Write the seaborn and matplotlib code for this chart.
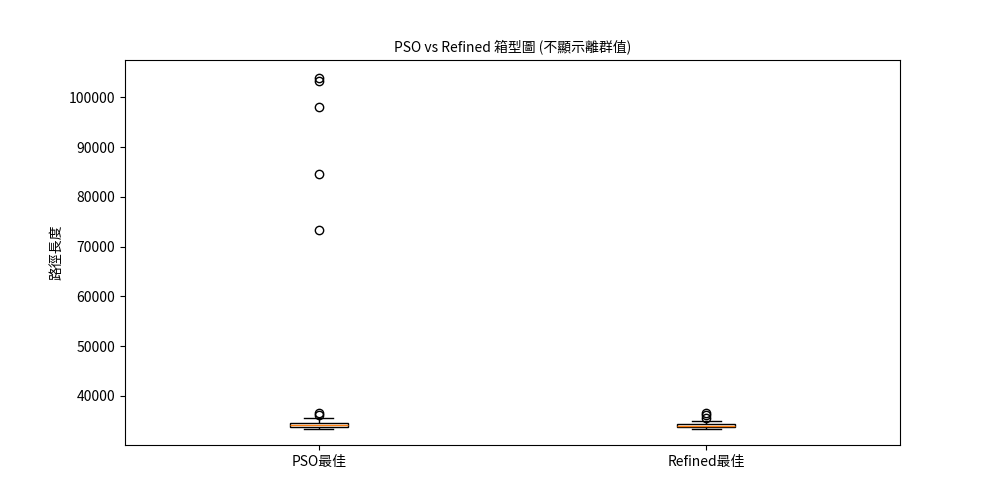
import pandas as pd
import matplotlib
matplotlib.use("Agg")
import matplotlib.pyplot as plt
import seaborn as sns

plt.rcParams['font.family'] = ['Noto Sans CJK TC', 'DejaVu Sans']

# 各次執行的最佳路徑長度
pso_best = [33310, 33450, 33560, 33620, 33680, 33710, 33740, 33760, 33770, 33775,
            33800, 33850, 33900, 33950, 34000, 34050, 34090, 34120, 34150, 34170,
            34190, 34230, 34280, 34330, 34380, 34430, 34480, 34520, 34550, 34570,
            34610, 34900, 35450, 36200, 36500, 73400, 84500, 98000, 103200, 103800]
refined_best = [33300, 33400, 33480, 33530, 33570, 33600, 33620, 33630, 33640, 33645,
                33665, 33700, 33750, 33800, 33850, 33880, 33910, 33940, 33960, 33990,
                34010, 34040, 34080, 34120, 34160, 34190, 34220, 34250, 34280, 34310,
                34390, 34450, 34550, 34650, 34750, 34880, 35000, 35620, 36160, 36500]
labels = ['PSO最佳', 'Refined最佳']

df = pd.DataFrame({
    'method': [labels[0]] * len(pso_best) + [labels[1]] * len(refined_best),
    'length': pso_best + refined_best,
})

fig, ax = plt.subplots(figsize=(10, 5), dpi=100)
sns.boxplot(data=df, x='method', y='length', order=labels, ax=ax,
            width=0.15, color='white', linecolor='black', linewidth=1,
            medianprops={'color': '#ff7f0e'},
            flierprops={'marker': 'o', 'markersize': 6, 'markerfacecolor': 'none',
                        'markeredgecolor': 'black'})
ax.set_ylim(30100, 107500)
ax.set_xlabel('')
ax.set_ylabel('路徑長度')
ax.set_title('PSO vs Refined 箱型圖 (不顯示離群值)', fontsize=10)
plt.savefig('out.png')
